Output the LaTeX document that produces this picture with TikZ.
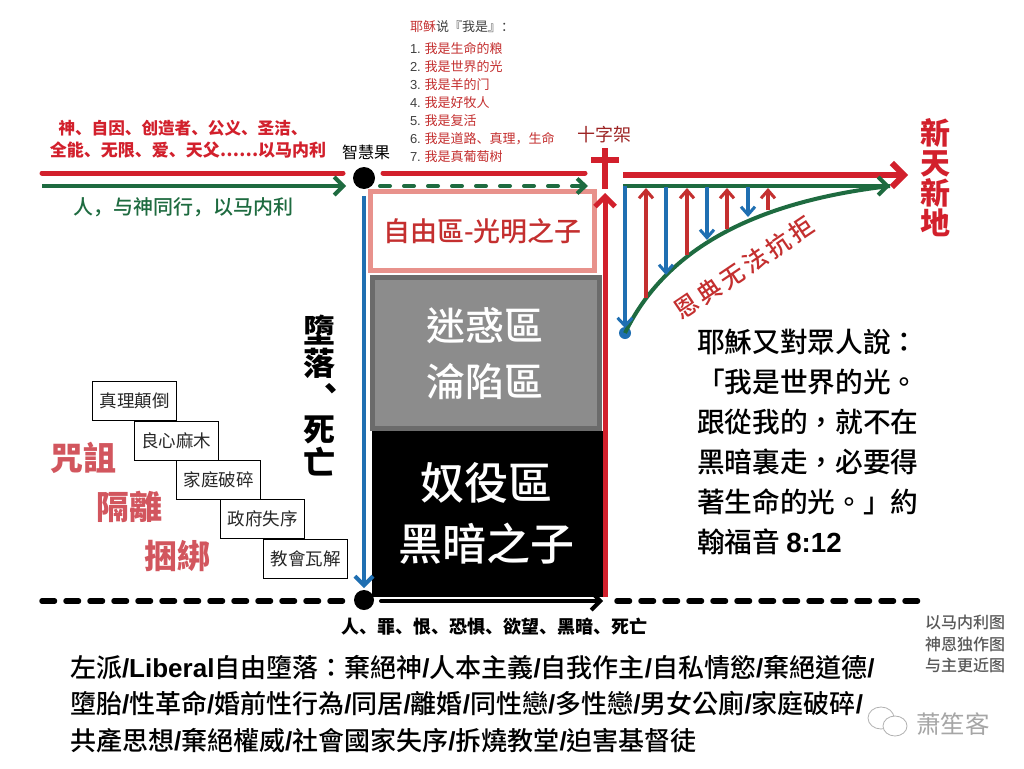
\documentclass[tikz,border=0pt]{standalone}
\usepackage{fontspec}
\usetikzlibrary{arrows.meta,calc,shapes.geometric}
\setmainfont{Noto Sans CJK TC}
\newfontfamily\tcf{Noto Sans CJK TC}
\newfontfamily\tcm{Noto Sans CJK TC Medium}
\newfontfamily\scf{Noto Sans CJK SC}
\newfontfamily\scm{Noto Sans CJK SC Medium}
\newfontfamily\scs[LetterSpace=15]{Noto Sans CJK SC Medium}
\newfontfamily\libs{Liberation Sans}
\newcommand{\lat}[1]{{\libs\bfseries #1}}
\definecolor{cred}{HTML}{D2202C}
\definecolor{dred}{HTML}{C42F2F}
\definecolor{cgreen}{HTML}{1E6B40}
\definecolor{cblue}{HTML}{1F6FB2}
\definecolor{pinkb}{HTML}{E8928C}
\definecolor{rosec}{HTML}{D2565E}
\tikzset{
  x=1pt,y=-1pt,
  lbl/.style={inner sep=0pt,outer sep=0pt,anchor=center},
  fs/.style={font=\fontsize{#1}{#1}\selectfont},
  barb/.style={-{Straight Barb[length=9pt,width=18pt,line width=4pt]}},
  redline/.style={draw=cred,line width=5pt,line cap=round},
  greenline/.style={draw=cgreen,line width=4pt},
  blueline/.style={draw=cblue,line width=4.5pt},
  graceup/.style={draw=dred,line width=3.5pt,-{Straight Barb[length=8pt,width=14pt,line width=3pt]}},
  gracedown/.style={draw=cblue,line width=3.5pt,-{Straight Barb[length=8pt,width=14pt,line width=3pt]}},
  sinbox/.style={draw=black,line width=0.9pt,minimum width=84pt,minimum height=38.5pt,inner sep=0pt,fs=17.5,text=black!85},
  curse/.style={lbl,text=rosec,font=\fontsize{33}{33}\selectfont\bfseries},
  listline/.style={lbl,anchor=west,text=dred},
  dashblack/.style={draw=black,line width=5.5pt,line cap=round,dash pattern=on 12.5pt off 11.5pt},
}
\begin{document}
\begin{tikzpicture}
\useasboundingbox[fill=white] (0,0) rectangle (1024,768);
% zones
\node[draw=pinkb,line width=5pt,fill=white,minimum width=224pt,minimum height=79pt,inner sep=0pt,text=dred,fs=27] (free) at (482.5,231) {\tcm 自由區-光明之子};
\node[draw=black!58,line width=5pt,fill=black!45,minimum width=227pt,minimum height=151pt,inner sep=0pt] (grey) at (486,353) {};
\node[fill=black,minimum width=232pt,minimum height=166pt,inner sep=0pt] (dark) at (488,514) {};
\node[lbl,text=white,fs=39,align=center] (g1) at (485,326) {\tcm 迷惑區};
\node[lbl,text=white,fs=39] (g2) at (485,382) {\tcm 淪陷區};
\node[lbl,text=white,fs=44] (d1) at (486,483) {\tcm 奴役區};
\node[lbl,text=white,fs=44] (d2) at (486,544) {\tcm 黑暗之子};
% top-left
\coordinate (rA) at (42,173); \coordinate (rB) at (343,173);
\coordinate (gA) at (42,186); \coordinate (gB) at (346,186);
\draw[redline] (rA) -- (rB);
\draw[greenline,barb] (gA) -- (gB);
\node[circle,fill=black,minimum size=22pt,inner sep=0pt] (fruit) at (364,178) {};
\node[lbl,fs=16] (fruitl) at (366,152) {\tcf 智慧果};
\node[lbl,text=cred,font=\fontsize{16.6}{16.6}\selectfont\bfseries] (godA) at (183,128) {\scf\bfseries 神、自因、创造者、公义、圣洁、};
\node[lbl,text=cred] (godB) at (188,150) {\fontsize{17}{17}\selectfont\scf\bfseries 全能、无限、爱、天父……以马内利};
\node[lbl,text=cgreen] (walk) at (183,207) {\fontsize{20}{20}\selectfont\scm 人，与神同行，以马内利};
% after fruit
\coordinate (r2A) at (383,173); \coordinate (r2B) at (585,173);
\coordinate (g2A) at (380,186); \coordinate (g2B) at (588,186);
\draw[redline] (r2A) -- (r2B);
\draw[draw=cgreen,line width=4pt,line cap=round,dash pattern=on 10pt off 14pt] (g2A) -- ($(g2B)+(-12,0)$);
\draw[greenline,-{Straight Barb[length=8pt,width=15pt,line width=4pt]}] ($(g2B)+(-12,0)$) -- (g2B);
% I am list
\node[lbl,anchor=west,fs=13] (iam) at (410,27) {\scf\textcolor{dred}{耶稣}\textcolor{black!75}{说『我是』：}};
\foreach \n/\t/\y in {1/我是生命的粮/49,2/我是世界的光/67,3/我是羊的门/85,4/我是好牧人/103,5/我是复活/121,6/我是道路、真理，生命/139,7/我是真葡萄树/157}{
  \node[listline,fs=13] (l\n) at (410,\y) {\textcolor{black!75}{\libs\n.} \scf\t};
}
% cross
\node[lbl,fs=18,text=dred!80!black] (crossl) at (604,135) {\tcf 十字架};
\coordinate (cT) at (605,148); \coordinate (cB) at (605,189);
\coordinate (cL) at (591,160); \coordinate (cR) at (619,160);
\draw[draw=cred,line width=6.5pt] (cT) -- (cB);
\draw[draw=cred,line width=6.5pt] (cL) -- (cR);
\coordinate (upA) at (605,597); \coordinate (upB) at (605,193);
\draw[draw=cred,line width=5pt,-{Straight Barb[length=10pt,width=20pt,line width=5pt]}] (upA) -- (upB);
% fall
\coordinate (fallB) at (364,588); \coordinate (fallA) at (364,196);
\draw[blueline,barb] (fallA) -- (fallB);
\node[lbl,font=\fontsize{32}{33}\selectfont\bfseries,align=center] (fallt1) at (319,347) {墮\\落};
\node[lbl,font=\fontsize{32}{32}\selectfont\bfseries] (fallc) at (340,389) {\scf\bfseries 、};
\node[lbl,font=\fontsize{32}{33}\selectfont\bfseries,align=center] (fallt2) at (319,446) {死\\亡};
% bottom line
\coordinate (bA) at (42,601); \coordinate (bB) at (345,601);
\coordinate (bC) at (617,601); \coordinate (bD) at (920,601);
\coordinate (bE) at (381,601); \coordinate (bF) at (603,601);
\draw[dashblack] (bA) -- (bB);
\draw[dashblack] (bC) -- (bD);
\node[circle,fill=black,minimum size=20pt,inner sep=0pt] (man) at (364,600) {};
\draw[draw=black,line width=4pt,line cap=round,barb] (bE) -- (bF);
\node[lbl] (sins) at (494,627) {\fontsize{18}{18}\selectfont\scf\bfseries 人、罪、恨、恐惧、欲望、黑暗、死亡};
% sin stairs
\node[sinbox] (s1) at (134.5,401) {\tcf 真理顛倒};
\node[sinbox] (s2) at (176,441) {\tcf 良心麻木};
\node[sinbox] (s3) at (218.5,480) {\tcf 家庭破碎};
\node[sinbox] (s4) at (262.5,519) {\tcf 政府失序};
\node[sinbox] (s5) at (305.5,559) {\tcf 教會瓦解};
\node[curse] (c1) at (83,458) {咒詛};
\node[curse] (c2) at (129,507) {隔離};
\node[curse] (c3) at (177,556) {捆綁};
% grace
\coordinate (nA) at (623,175); \coordinate (nB) at (908,175);
\draw[draw=cred,line width=6pt,-{Straight Barb[length=12pt,width=24pt,line width=6pt]}] (nA) -- (nB);
\coordinate (mA) at (623,186); \coordinate (mB) at (890,186);
\draw[greenline,barb] (mA) -- (mB);
\node[circle,fill=cblue,minimum size=12pt,inner sep=0pt] (gd) at (625,333) {};
\draw[draw=cgreen,line width=4pt] (gd.center) .. controls (670,240) and (770,200) .. (mB);
\coordinate (dT) at (625,186); \coordinate (dB) at (625,328);
\draw[draw=cblue,line width=3.5pt,-{Straight Barb[length=8pt,width=15pt,line width=3pt]}] (dT) -- (dB);
\foreach \x/\yy in {646/298,687/255,727/229,768/210}{
  \coordinate (ua\x) at (\x,\yy); \coordinate (ub\x) at (\x,188);
  \draw[graceup] (ua\x) -- (ub\x);
}
\foreach \x/\yy in {666/275,707/240,748/217}{
  \coordinate (da\x) at (\x,187); \coordinate (db\x) at (\x,\yy);
  \draw[gracedown] (da\x) -- (db\x);
}
\node[lbl,rotate=34,text=dred] (gracet) at (744,268) {\fontsize{24}{24}\selectfont\scs 恩典无法抗拒};
% new heaven
\node[lbl,text=cred,align=center,font=\fontsize{30}{30}\selectfont\bfseries] (nh) at (935,178) {新\\天\\新\\地};
% verse
\node[lbl,anchor=north west,align=left,font=\fontsize{27.7}{40}\selectfont\tcm] (verse) at (697,329) {耶穌又對眾人說：\\「我是世界的光。\\跟從我的，就不在\\黑暗裏走，必要得\\著生命的光。」約\\翰福音 \lat{8:12}};
% legend right
\node[lbl,align=left,text=black!65,font=\fontsize{16}{21.5}\selectfont\scm] (leg) at (965,644) {以马内利图\\神恩独作图\\与主更近图};
% bottom text
\node[lbl,anchor=north west,align=left,font=\fontsize{26}{36.5}\selectfont\tcm] (bot) at (70,655) {左派\lat{/Liberal}自由墮落：棄絕神\lat{/}人本主義\lat{/}自我作主\lat{/}自私情慾\lat{/}棄絕道德\lat{/}\\墮胎\lat{/}性革命\lat{/}婚前性行為\lat{/}同居\lat{/}離婚\lat{/}同性戀\lat{/}多性戀\lat{/}男女公廁\lat{/}家庭破碎\lat{/}\\共產思想\lat{/}棄絕權威\lat{/}社會國家失序\lat{/}拆燒教堂\lat{/}迫害基督徒};
% watermark
\node[draw=black!30,line width=0.8pt,ellipse,minimum width=26pt,minimum height=22pt,inner sep=0pt,fill=white] (w1) at (881,718) {};
\node[draw=black!30,line width=0.8pt,ellipse,minimum width=24pt,minimum height=20pt,inner sep=0pt,fill=white] (w2) at (895,726) {};
\node[lbl,text=black!35] (wm) at (953,724) {\fontsize{24.5}{24.5}\selectfont\scf 萧笙客};
\end{tikzpicture}
\end{document}
